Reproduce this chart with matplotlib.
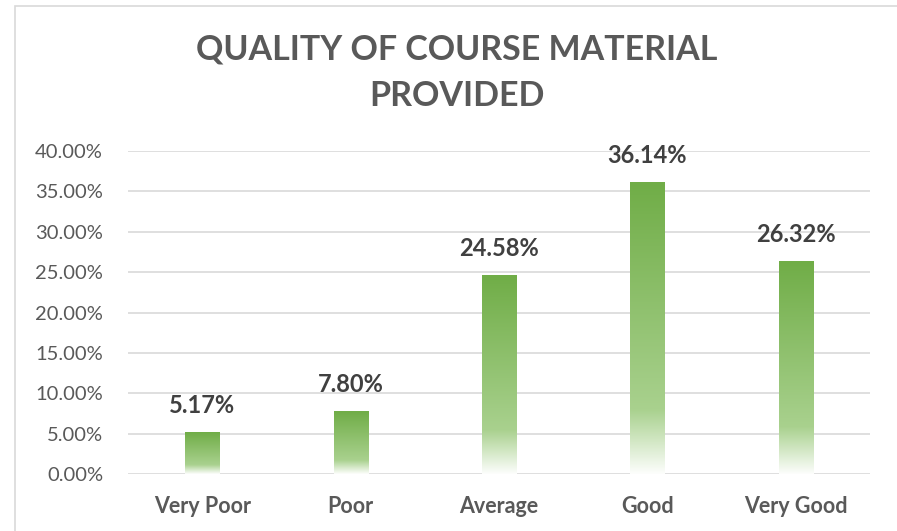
import matplotlib.pyplot as plt
import numpy as np
from matplotlib.patches import Rectangle

categories = ['Very Poor', 'Poor', 'Average', 'Good', 'Very Good']
values = [5.17, 7.80, 24.58, 36.14, 26.32]
yticks = [0, 5, 10, 15, 20, 25, 30, 35, 40]

plt.rcParams['font.family'] = ['Lato', 'DejaVu Sans']

fig = plt.figure(figsize=(8.97, 5.31), dpi=100)
# chart frame (runs off the right and bottom of the picture)
fig.patches.append(Rectangle((15 / 897, -0.1), 1.1, 1.1 - 6 / 531, transform=fig.transFigure,
                             fill=False, edgecolor='#d9d9d9', linewidth=1.2))
ax = fig.add_axes([128 / 897, 1 - 474 / 531, (870 - 128) / 897, (474 - 151) / 531])

# gradient: solid green on top, lighter, then white at the bottom
top = np.array([112, 173, 71]) / 255
mid = np.array([169, 209, 142]) / 255
white = np.array([1.0, 1.0, 1.0])
t = np.linspace(0, 1, 200)
cols = np.zeros((200, 3))
for i, f in enumerate(t):
    if f < 0.78:
        cols[i] = top + (mid - top) * f / 0.78
    else:
        cols[i] = mid + (white * 0.97 + mid * 0.03 - mid) * (f - 0.78) / 0.22
grad = cols[:, None, :]

w = 0.23
x = np.arange(len(categories))
for xi, v in zip(x, values):
    ax.imshow(grad, extent=(xi - w / 2, xi + w / 2, 0, v), aspect='auto', zorder=3)
    ax.text(xi, v + 1.9, '%.2f%%' % v, ha='center', va='bottom', fontsize=17,
            fontweight='bold', color='#404040', zorder=4)

ax.set_xlim(-0.5, len(categories) - 0.5)
ax.set_ylim(0, 40)
ax.set_yticks(yticks)
ax.set_yticklabels(['%.2f%%' % v for v in yticks], fontsize=14.5, color='#595959')
ax.set_xticks(x)
ax.set_xticklabels(categories, fontsize=15.5, fontweight='bold', color='#595959')
ax.tick_params(length=0)
ax.tick_params(axis='x', pad=16)
ax.tick_params(axis='y', pad=18)
for s in ax.spines.values():
    s.set_visible(False)
ax.grid(axis='y', color='#d9d9d9', linewidth=1.2, zorder=0)
ax.set_axisbelow(True)

fig.text(457 / 897, 1 - 50 / 531, 'QUALITY OF COURSE MATERIAL', ha='center', va='center',
         fontsize=24.5, fontweight='bold', color='#595959')
fig.text(457 / 897, 1 - 96 / 531, 'PROVIDED', ha='center', va='center',
         fontsize=24.5, fontweight='bold', color='#595959')

fig.savefig('out.png', dpi=100)
